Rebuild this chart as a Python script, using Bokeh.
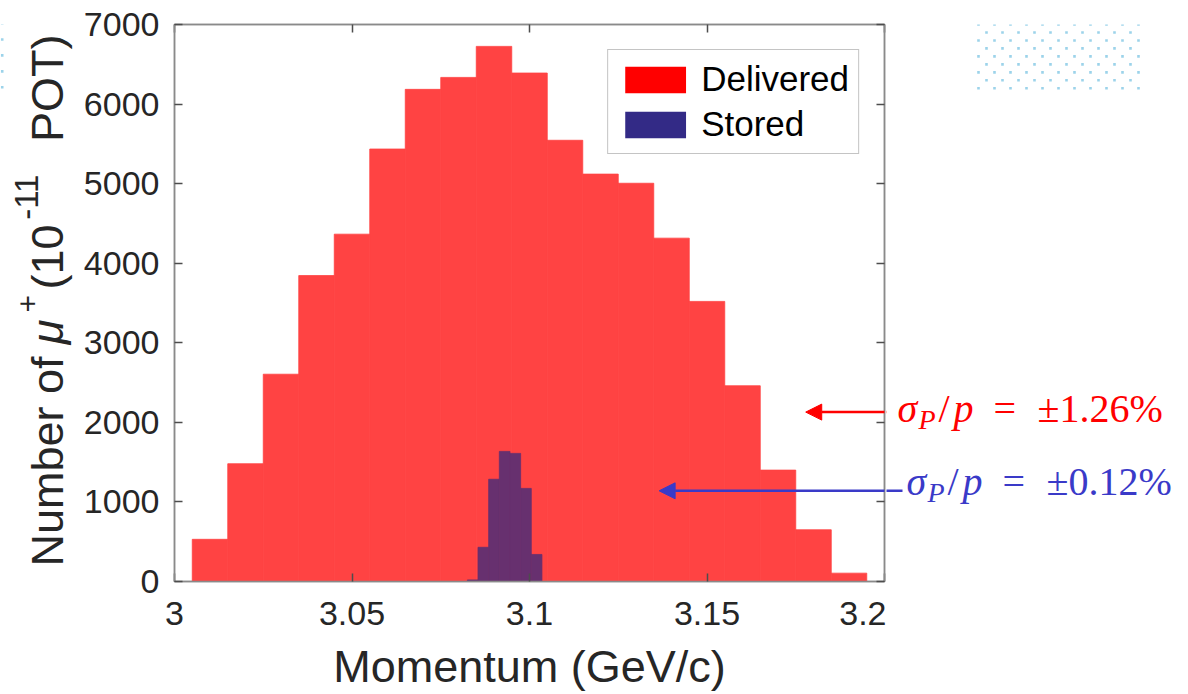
import math
from bokeh.plotting import figure
from bokeh.layouts import row
from bokeh.models import (Range1d, LinearAxis, FixedTicker, Label, Arrow, NormalHead,
                          ColumnDataSource, Legend, LegendItem)
from bokeh.embed import file_html
from bokeh.resources import INLINE

# ---------------- data ----------------
delivered_momentum = [3.01, 3.02, 3.03, 3.04, 3.05, 3.06, 3.07, 3.08, 3.09, 3.10,
                      3.11, 3.12, 3.13, 3.14, 3.15, 3.16, 3.17, 3.18, 3.19]
delivered_counts = [530, 1480, 2605, 3845, 4365, 5435, 6185, 6335, 6725, 6390,
                    5545, 5120, 5005, 4315, 3520, 2460, 1400, 650, 105]
delivered_bin_width = 0.01

stored_momentum = [3.084, 3.087, 3.090, 3.093, 3.096, 3.099, 3.102]
stored_counts = [20, 430, 1285, 1635, 1610, 1170, 340]
stored_bin_width = 0.003

series_names = ["Delivered", "Stored"]
x_ticks = [3.0, 3.05, 3.1, 3.15, 3.2]
x_tick_labels = ["3", "3.05", "3.1", "3.15", "3.2"]
y_ticks = [0, 1000, 2000, 3000, 4000, 5000, 6000, 7000]
x_title = "Momentum (GeV/c)"
# y title pieces: Number of mu^+ (10^-11 POT)
y_title_parts = ["Number of", "\u03bc", "+", "(10", "-11", "POT)"]
delivered_spread = "\u00b11.26%"
stored_spread = "\u00b10.12%"

# ---------------- layout / style ----------------
W, H = 1188, 694
LW = 80                         # left title panel width
FL, FR, FT, FB = 172, 884, 24, 583
PR = FR + 2                     # right edge of the main figure canvas
X0, X1, Y0, Y1 = 3.0, 3.2, 0, 7000

def dx(px):
    return X0 + (px - FL) * (X1 - X0) / (FR - FL)

def dy(py):
    return Y0 + (FB - py) * (Y1 - Y0) / (FB - FT)

def mid(size):
    # distance from the alphabetic baseline up to the text's middle line
    return 0.3465 * size

RED = "#FF0000"
NAVY = "#332A86"
RED_SEEN = "#FF4343"      # red at ~74% over white
NAVY_SEEN = "#67306F"     # navy at ~75% over the red
BLUE = "#3A3AC8"
FRAME = "#8A8A8A"
TICK = "#4D4D4D"
TXT = "#262626"
DOT = "#9CD3EA"
SANS = "Liberation Sans"
SERIF = "Liberation Serif"

yr = Range1d(Y0, Y1)

def blank_panel(width, x_left_px):
    f = figure(width=width, height=H, output_backend="svg", toolbar_location=None,
               title=None, x_range=Range1d(dx(x_left_px), dx(x_left_px + width)),
               y_range=yr, min_border_left=0, min_border_right=0,
               min_border_top=FT, min_border_bottom=H - FB,
               x_axis_location=None, y_axis_location=None)
    f.xgrid.visible = False
    f.ygrid.visible = False
    f.outline_line_color = None
    f.background_fill_color = "white"
    f.border_fill_color = "white"
    return f

p = figure(width=PR - LW, height=H, output_backend="svg", toolbar_location=None,
           title=None, x_range=Range1d(X0, X1), y_range=yr,
           min_border_left=FL - LW, min_border_right=PR - FR,
           min_border_top=FT, min_border_bottom=H - FB,
           x_axis_location=None, y_axis_location=None)
p.xgrid.visible = False
p.ygrid.visible = False
p.outline_line_color = FRAME
p.outline_line_width = 1.5
p.background_fill_color = "white"
p.border_fill_color = "white"

# histograms
dsrc = ColumnDataSource(dict(
    left=[m - delivered_bin_width / 2 for m in delivered_momentum],
    right=[m + delivered_bin_width / 2 for m in delivered_momentum],
    top=delivered_counts,
    bottom=[0] * len(delivered_counts)))
ssrc = ColumnDataSource(dict(
    left=[m - stored_bin_width / 2 for m in stored_momentum],
    right=[m + stored_bin_width / 2 for m in stored_momentum],
    top=stored_counts,
    bottom=[0] * len(stored_counts)))
p.quad(left="left", right="right", top="top", bottom="bottom", source=dsrc,
       fill_color=RED_SEEN, line_color=RED_SEEN, line_width=0.8)
p.quad(left="left", right="right", top="top", bottom="bottom", source=ssrc,
       fill_color=NAVY_SEEN, line_color=NAVY_SEEN, line_width=0.8)

# legend proxies (zero-height, full-colour swatches)
r_del = p.quad(left=[X0], right=[X0], top=[0], bottom=[0], fill_color=RED, line_color=None)
r_sto = p.quad(left=[X0], right=[X0], top=[0], bottom=[0], fill_color=NAVY, line_color=None)
lg = Legend(items=[LegendItem(label=series_names[0], renderers=[r_del]),
                   LegendItem(label=series_names[1], renderers=[r_sto])])
lg.location = "top_right"
lg.margin = 25
lg.padding = 9
lg.spacing = 5
lg.glyph_width = 76
lg.glyph_height = 33
lg.label_standoff = 8
lg.label_text_font = SANS
lg.label_text_font_size = "35px"
lg.label_text_color = "black"
lg.border_line_color = FRAME
lg.border_line_width = 1.5
lg.background_fill_alpha = 1.0
p.add_layout(lg, "center")

# axes
def make_axis(ticks, labels=True, overrides=None):
    ax = LinearAxis(ticker=FixedTicker(ticks=ticks))
    ax.axis_line_color = FRAME
    ax.axis_line_width = 1.5
    ax.major_tick_line_color = TICK
    ax.major_tick_line_width = 1.5
    ax.major_tick_in = 8
    ax.major_tick_out = 0
    ax.minor_tick_line_color = None
    ax.major_label_text_font = SANS
    ax.major_label_text_color = TXT
    ax.axis_label_text_font = SANS
    ax.axis_label_text_color = TXT
    ax.axis_label_text_font_style = "normal"
    if labels:
        ax.major_label_text_font_size = "34px"
        if overrides:
            ax.major_label_overrides = overrides
    else:
        ax.major_label_text_font_size = "1px"
        ax.major_label_standoff = 0
        ax.major_label_overrides = {t: "" for t in ticks}
    return ax

xb = make_axis(x_ticks, True, {t: l for t, l in zip(x_ticks, x_tick_labels)})
xb.major_label_standoff = 20
xb.axis_label = x_title
xb.axis_label_text_font_size = "45px"
xb.axis_label_standoff = 13
p.add_layout(xb, "below")

yl = make_axis(y_ticks, True)
yl.major_label_standoff = 15
p.add_layout(yl, "left")

p.add_layout(make_axis(x_ticks, False), "above")
p.add_layout(make_axis(y_ticks, False), "right")

# ---- left panel: rotated y title, built from pieces (superscripts / italic mu)
qL = blank_panel(LW, 0)
ypieces = [  # (start y px, baseline x px, size px, style)
    (568, 63, 45, "normal"),
    (345, 63, 45, "italic"),
    (313, 38, 30, "normal"),
    (290, 63, 45, "normal"),
    (220, 37, 33, "normal"),
    (142, 63, 45, "normal"),
]
for txt, (sy, bx, size, style) in zip(y_title_parts, ypieces):
    qL.add_layout(Label(x=dx(bx - mid(size)), y=dy(sy), text=txt, angle=math.pi / 2,
                        text_align="left", text_baseline="middle",
                        text_font=SANS, text_font_size=f"{size}px", text_font_style=style,
                        text_color=TXT))
qL.scatter([dx(1.7)] * 6, [dy(v) for v in (7, 23, 39, 55, 71, 87)], marker="square",
           size=2.6, fill_color=DOT, line_color=None)

# ---- right panel: spread annotations
q = blank_panel(W - PR, PR)

dot_x, dot_y = [], []
for k, py in enumerate(range(0, 96, 8)):
    start = 986 if k % 2 == 0 else 978
    stop = 1131 if k % 2 == 0 else 1139
    for px in range(start, stop, 16):
        dot_x.append(dx(px))
        dot_y.append(dy(py))
q.scatter(dot_x, dot_y, marker="square", size=2.6, fill_color=DOT, line_color=None)

def spread_note(x0, base_y, arrow_from, arrow_to, arrow_y, spread, color):
    for fig in (p, q):
        fig.add_layout(Arrow(x_start=dx(arrow_from), y_start=dy(arrow_y),
                             x_end=dx(arrow_to), y_end=dy(arrow_y),
                             line_color=color, line_width=2.5,
                             end=NormalHead(size=16, fill_color=color, line_color=color)))
    pieces = [("\u03c3", 0, 0, "italic", 40),
              ("P", 21, 7, "italic", 28),
              ("/", 41, 0, "normal", 40),
              ("p", 56, 0, "italic", 40),
              ("=", 96, 0, "normal", 40),
              (spread, 140, 0, "normal", 40)]
    for txt, off, down, style, size in pieces:
        q.add_layout(Label(x=dx(x0 + off), y=dy(base_y + down - mid(size)), text=txt,
                           text_align="left", text_baseline="middle",
                           text_font=SERIF, text_font_style=style,
                           text_font_size=f"{size}px", text_color=color))

spread_note(897, 423, 886, 805, 413, delivered_spread, RED)
spread_note(906, 496, 902, 658, 492, stored_spread, BLUE)

layout = row(qL, p, q)
open("out.html", "w").write(file_html(layout, INLINE))
